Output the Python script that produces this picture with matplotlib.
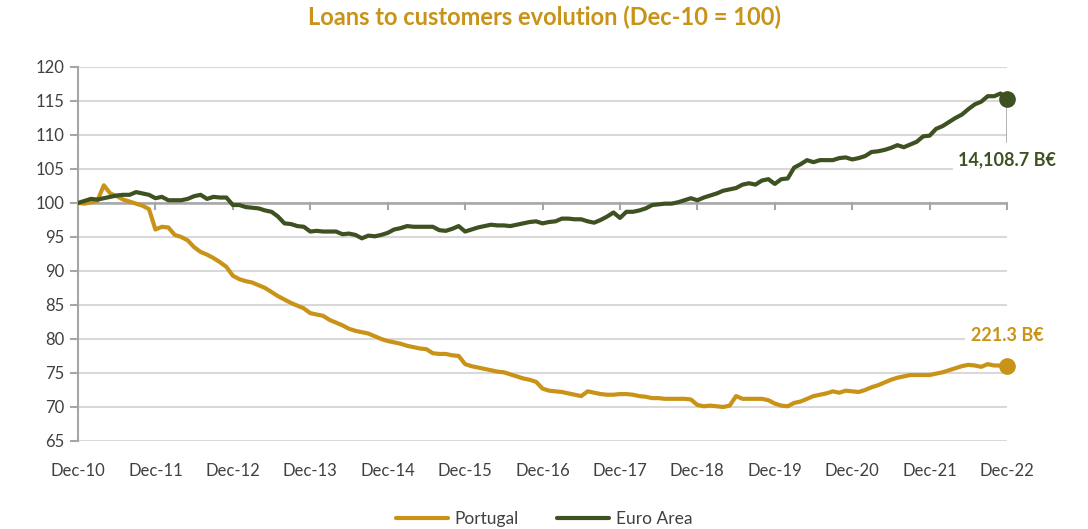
import matplotlib
matplotlib.use("Agg")
import matplotlib.pyplot as plt
import numpy as np

plt.rcParams["font.family"] = ["Lato", "DejaVu Sans"]

# Monthly index, Dec-10 = 100
portugal = [
    100.0, 99.9, 100.1, 100.3, 102.6, 101.4, 101.0, 100.5, 100.2, 99.9, 99.6, 99.1,
    96.1, 96.5, 96.4, 95.3, 95.0, 94.5, 93.5, 92.8, 92.4, 91.9, 91.3, 90.6,
    89.3, 88.8, 88.5, 88.3, 87.9, 87.5, 86.9, 86.3, 85.8, 85.3, 84.9, 84.5,
    83.8, 83.6, 83.4, 82.8, 82.4, 82.0, 81.5, 81.2, 81.0, 80.8, 80.4, 80.0,
    79.7, 79.5, 79.3, 79.0, 78.8, 78.6, 78.5, 77.9, 77.8, 77.8, 77.6, 77.5,
    76.3, 76.0, 75.8, 75.6, 75.4, 75.2, 75.1, 74.8, 74.5, 74.2, 74.0, 73.7,
    72.7, 72.4, 72.3, 72.2, 72.0, 71.8, 71.6, 72.3, 72.1, 71.9, 71.8, 71.8,
    71.9, 71.9, 71.8, 71.6, 71.5, 71.3, 71.3, 71.2, 71.2, 71.2, 71.2, 71.1,
    70.3, 70.1, 70.2, 70.1, 70.0, 70.2, 71.6, 71.2, 71.2, 71.2, 71.2, 71.0,
    70.5, 70.2, 70.1, 70.6, 70.8, 71.2, 71.6, 71.8, 72.0, 72.3, 72.1, 72.4,
    72.3, 72.2, 72.5, 72.9, 73.2, 73.6, 74.0, 74.3, 74.5, 74.7, 74.7, 74.7,
    74.7, 74.9, 75.1, 75.4, 75.7, 76.0, 76.2, 76.1, 75.9, 76.3, 76.1, 76.1,
    76.0,
]
euro_area = [
    100.0, 100.3, 100.6, 100.5, 100.7, 100.9, 101.1, 101.2, 101.2, 101.6, 101.4, 101.2,
    100.7, 100.9, 100.4, 100.4, 100.4, 100.6, 101.0, 101.2, 100.6, 100.9, 100.8, 100.8,
    99.7, 99.7, 99.4, 99.3, 99.2, 98.9, 98.7, 98.0, 97.0, 96.9, 96.6, 96.5,
    95.8, 95.9, 95.8, 95.8, 95.8, 95.4, 95.5, 95.3, 94.8, 95.2, 95.1, 95.3,
    95.6, 96.1, 96.3, 96.6, 96.5, 96.5, 96.5, 96.5, 96.0, 95.9, 96.2, 96.6,
    95.8, 96.1, 96.4, 96.6, 96.8, 96.7, 96.7, 96.6, 96.8, 97.0, 97.2, 97.3,
    97.0, 97.2, 97.3, 97.7, 97.7, 97.6, 97.6, 97.3, 97.1, 97.5, 98.0, 98.6,
    97.8, 98.7, 98.7, 98.9, 99.2, 99.7, 99.8, 99.9, 99.9, 100.1, 100.4, 100.7,
    100.4, 100.8, 101.1, 101.4, 101.8, 102.0, 102.2, 102.7, 102.9, 102.7, 103.3, 103.5,
    102.8, 103.5, 103.6, 105.2, 105.7, 106.3, 106.0, 106.3, 106.3, 106.3, 106.6, 106.7,
    106.4, 106.6, 106.9, 107.5, 107.6, 107.8, 108.1, 108.5, 108.2, 108.6, 109.0, 109.8,
    109.9, 110.9, 111.3, 111.9, 112.5, 113.0, 113.8, 114.5, 114.9, 115.7, 115.7, 116.1,
    115.3,
]
year_labels = ["Dec-10", "Dec-11", "Dec-12", "Dec-13", "Dec-14", "Dec-15", "Dec-16",
               "Dec-17", "Dec-18", "Dec-19", "Dec-20", "Dec-21", "Dec-22"]
pt_last_label = "221.3 B€"
ea_last_label = "14,108.7 B€"

GOLD = "#C89317"
OLIVE = "#3E5121"
GRID = "#D9D9D9"
AXIS = "#A6A6A6"
TEXT = "#404040"

months = np.arange(len(portugal))

fig = plt.figure(figsize=(10.88, 5.29), dpi=100)
ax = fig.add_axes([0.0717, 0.1664, 0.8539, 0.707])

ax.plot(months, portugal, color=GOLD, lw=3.0, label="Portugal", solid_capstyle="round", zorder=3)
ax.plot(months, euro_area, color=OLIVE, lw=3.0, label="Euro Area", solid_capstyle="round", zorder=3)

# end-point markers
ax.plot(months[-1], portugal[-1], "o", color=GOLD, ms=11, zorder=4, clip_on=False)
ax.plot(months[-1], euro_area[-1], "o", color=OLIVE, ms=11, zorder=4, clip_on=False)

ax.set_xlim(0, months[-1])
ax.set_ylim(65, 120)
ax.set_yticks(np.arange(65, 121, 5))
ax.yaxis.grid(True, color=GRID, lw=1.5, zorder=0)
ax.set_axisbelow(True)

for side in ["top", "right", "bottom"]:
    ax.spines[side].set_visible(False)
ax.spines["left"].set_color(AXIS)
ax.spines["left"].set_linewidth(1.5)
ax.tick_params(axis="y", colors=AXIS, length=6, width=1.5, labelcolor=TEXT, labelsize=12, pad=4)

# category axis drawn across the 100 line, labels kept at the bottom
ax.axhline(100, color=AXIS, lw=1.8, zorder=1)
year_pos = np.arange(0, len(portugal), 12)
for xp in year_pos[1:]:
    ax.plot([xp, xp], [100, 99.1], color=AXIS, lw=1.5, zorder=1, clip_on=False)
ax.set_xticks(year_pos)
ax.set_xticklabels(year_labels)
ax.tick_params(axis="x", length=0, labelsize=12, labelcolor=TEXT, pad=16)

# value labels on the last points
ax.plot([months[-1], months[-1]], [euro_area[-1], 109.0], color=AXIS, lw=1.2, zorder=2)
ax.annotate(ea_last_label, xy=(months[-1], euro_area[-1]), xytext=(0, -44),
            textcoords="offset points", ha="center", va="center",
            fontsize=13, fontweight="bold", color=OLIVE,
            bbox=dict(boxstyle="square,pad=0.3", fc="white", ec="none"), annotation_clip=False)
ax.annotate(pt_last_label, xy=(months[-1], portugal[-1]), xytext=(0, 22),
            textcoords="offset points", ha="center", va="center",
            fontsize=13, fontweight="bold", color=GOLD,
            bbox=dict(boxstyle="square,pad=0.3", fc="white", ec="none"), annotation_clip=False)

fig.suptitle("Loans to customers evolution (Dec-10 = 100)", x=0.5, y=0.99,
             fontsize=17, fontweight="bold", color=GOLD)

fig.legend(loc="lower center", bbox_to_anchor=(0.5, -0.025), ncol=2, frameon=False,
           fontsize=12.5, labelcolor=TEXT, handlelength=3.0, columnspacing=2.2,
           handletextpad=0.4)

fig.savefig("out.png", dpi=100)
